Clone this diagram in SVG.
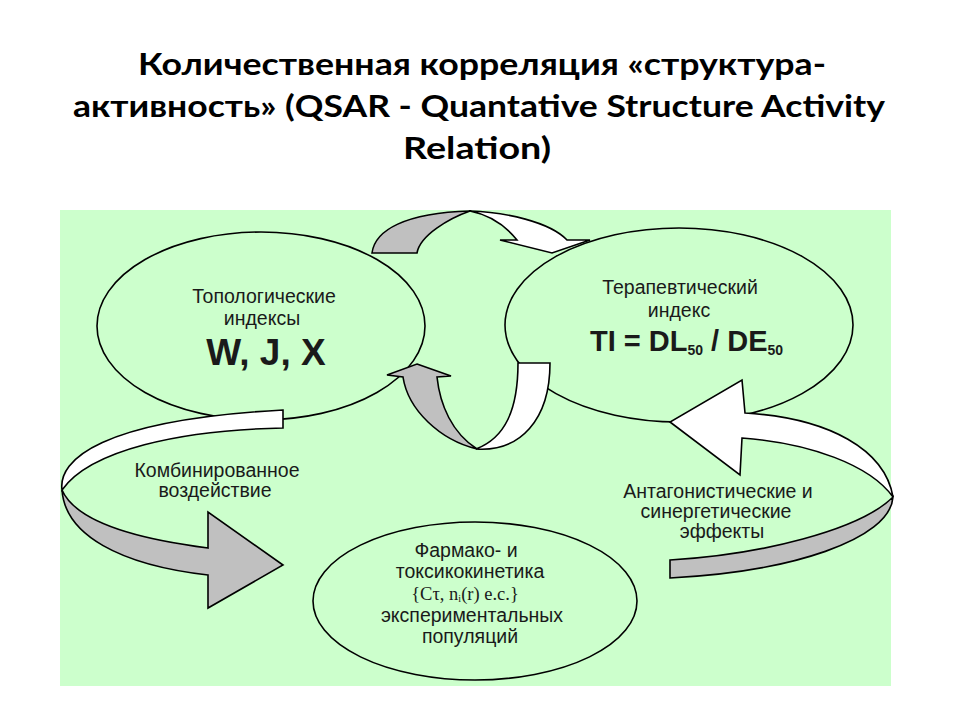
<svg xmlns="http://www.w3.org/2000/svg" width="960" height="720" viewBox="0 0 960 720">
<style>
.title{font-family:Lato,"Open Sans","Liberation Sans",sans-serif;font-weight:bold;font-size:30px;fill:#000}
.t{font-family:"Liberation Sans",Arial,sans-serif;font-size:19.5px;fill:#1a1a1a;text-anchor:middle}
.big{font-family:"Liberation Sans",Arial,sans-serif;font-weight:bold;fill:#1a1a1a}
.serif{font-family:"Liberation Serif","Times New Roman",serif;font-size:18.5px;fill:#1a1a1a;text-anchor:middle}
.ell{fill:#ccffcc;stroke:#000;stroke-width:1.6}
.w{fill:#fff;stroke:#000;stroke-width:1.6;stroke-linejoin:miter}
.g{fill:#c0c0c0;stroke:#000;stroke-width:1.6;stroke-linejoin:miter}
</style>
<rect width="960" height="720" fill="#fff"/>
<g id="title">
<text class="title" x="138" y="75" textLength="688" lengthAdjust="spacingAndGlyphs">Количественная корреляция «структура-</text>
<text class="title" x="73" y="117" textLength="812" lengthAdjust="spacingAndGlyphs">активность» (QSAR - Quantative Structure Activity</text>
<text class="title" x="403" y="159" textLength="148" lengthAdjust="spacingAndGlyphs">Relation)</text>
</g>
<rect id="background" x="60" y="210" width="831" height="476" fill="#ccffcc"/>
<g id="node-topological">
<ellipse class="ell" cx="261" cy="326" rx="164" ry="94"/>
<text class="t" x="264" y="303">Топологические</text>
<text class="t" x="262" y="325">индексы</text>
<text class="big" x="266" y="365" font-size="37" text-anchor="middle">W, J, X</text>
</g>
<g id="node-therapeutic">
<ellipse class="ell" cx="679" cy="325" rx="174" ry="97"/>
<text class="t" x="680" y="294">Терапевтический</text>
<text class="t" x="679" y="317">индекс</text>
<text class="big" x="590" y="351" font-size="29">TI = DL<tspan font-size="14" dy="4">50</tspan><tspan dy="-4"> / DE</tspan><tspan font-size="14" dy="4">50</tspan></text>
</g>
<g id="node-kinetics">
<ellipse class="ell" cx="475" cy="601" rx="162" ry="79"/>
<text class="t" x="466" y="557">Фармако- и</text>
<text class="t" x="470" y="578">токсикокинетика</text>
<text class="serif" x="465" y="600">{Cτ, n<tspan font-size="10" dy="2">i</tspan><tspan dy="-2">(r) e.c.}</tspan></text>
<text class="t" x="472" y="622">экспериментальных</text>
<text class="t" x="470" y="643">популяций</text>
</g>
<g id="connectors">
<path class="g" d="M372,253 C375,230 405,213 470,211 C450,218 420,235 417,253 Z"/>
<path class="w" d="M470,211 C505,212 550,222 567,240 L590,240 L552,253 L500,240 L517,240 C505,225 490,215 470,211 Z"/>
<path class="g" d="M417,364 L451,376 L437,377 C440,405 452,433 477,449 C440,440 408,410 403,377 L387,375 Z"/>
<path class="w" d="M476,449 C520,452 550,420 550,363 L518,363 C518,410 505,438 476,449 Z"/>
<path class="w" d="M283,410 L283,428 C180,430 90,450 62,490 C58,460 100,420 283,410 Z"/>
<path class="g" d="M62,490 C75,520 130,538 208,548 L208,512 L283,565 L208,608 L208,575 C120,565 65,535 62,490 Z"/>
<path class="g" d="M670,560 C760,555 860,530 893,497 C890,540 790,572 670,578 Z"/>
<path class="w" d="M893,497 C885,450 830,418 745,413 L742,380 L670,422 L740,475 L742,438 C810,443 870,465 893,497 Z"/>
</g>
<g id="labels">
<text class="t" x="217" y="477">Комбинированное</text>
<text class="t" x="215" y="497">воздействие</text>
<text class="t" x="718" y="498">Антагонистические и</text>
<text class="t" x="716" y="518">синергетические</text>
<text class="t" x="722" y="538">эффекты</text>
</g>
</svg>
